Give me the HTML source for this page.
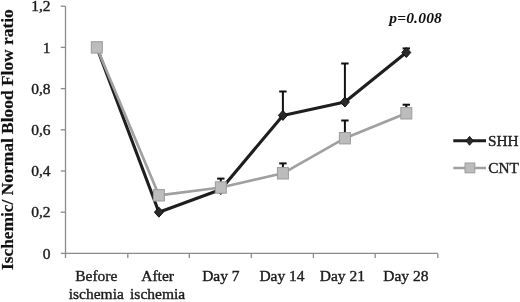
<!DOCTYPE html><html><head><meta charset="utf-8"><style>html,body{margin:0;padding:0;background:#fff;}svg{display:block;filter:grayscale(1);}text{font-family:"Liberation Serif",serif;}</style></head><body>
<svg width="520" height="302" viewBox="0 0 520 302">
<g stroke="#8a8a8a" stroke-width="1.3" fill="none">
<line x1="65.5" y1="6.2" x2="65.5" y2="253.4"/>
<line x1="60.8" y1="253.4" x2="65.5" y2="253.4"/>
<line x1="60.8" y1="212.2" x2="65.5" y2="212.2"/>
<line x1="60.8" y1="171.0" x2="65.5" y2="171.0"/>
<line x1="60.8" y1="129.8" x2="65.5" y2="129.8"/>
<line x1="60.8" y1="88.6" x2="65.5" y2="88.6"/>
<line x1="60.8" y1="47.4" x2="65.5" y2="47.4"/>
<line x1="60.8" y1="6.2" x2="65.5" y2="6.2"/>
<line x1="65" y1="253.4" x2="437.8" y2="253.4"/>
<line x1="65.5" y1="253.4" x2="65.5" y2="258"/>
<line x1="127.8" y1="253.4" x2="127.8" y2="258"/>
<line x1="189.3" y1="253.4" x2="189.3" y2="258"/>
<line x1="251.3" y1="253.4" x2="251.3" y2="258"/>
<line x1="313.4" y1="253.4" x2="313.4" y2="258"/>
<line x1="375.2" y1="253.4" x2="375.2" y2="258"/>
<line x1="437.8" y1="253.4" x2="437.8" y2="258"/>
</g>
<g font-size="15.5" fill="#1c1c1c" stroke="#1c1c1c" stroke-width="0.4" text-anchor="end">
<text x="50.5" y="258.6">0</text>
<text x="50.5" y="217.4">0,2</text>
<text x="50.5" y="176.2">0,4</text>
<text x="50.5" y="135.0">0,6</text>
<text x="50.5" y="93.8">0,8</text>
<text x="50.5" y="52.6">1</text>
<text x="50.5" y="11.4">1,2</text>
</g>
<text transform="translate(13.3,139.7) rotate(-90)" text-anchor="middle" font-size="17.4" font-weight="bold" fill="#111" stroke="#111" stroke-width="0.2">Ischemic/ Normal Blood Flow ratio</text>
<g font-size="15.5" fill="#1c1c1c" stroke="#1c1c1c" stroke-width="0.4" text-anchor="middle">
<text x="96.3" y="281.3">Before</text><text x="96.3" y="299.4">ischemia</text>
<text x="157.6" y="281.3">After</text><text x="157.6" y="299.4">ischemia</text>
<text x="220.9" y="281.3">Day 7</text>
<text x="282.0" y="281.3">Day 14</text>
<text x="342.4" y="281.3">Day 21</text>
<text x="405.8" y="281.3">Day 28</text>
</g>
<text x="389.2" y="23.4" font-size="15.5" font-weight="bold" font-style="italic" letter-spacing="0.2" fill="#111">p=0.008</text>
<g stroke="#111" stroke-width="2" fill="none">
<line x1="282.9" y1="115.4" x2="282.9" y2="91.5"/><line x1="279.2" y1="91.5" x2="286.6" y2="91.5"/>
<line x1="344.9" y1="102.0" x2="344.9" y2="63.5"/><line x1="341.2" y1="63.5" x2="348.6" y2="63.5"/>
<line x1="406.3" y1="52.5" x2="406.3" y2="48.4"/><line x1="402.6" y1="48.4" x2="410.0" y2="48.4"/>
<line x1="220.8" y1="187.5" x2="220.8" y2="178.6"/><line x1="217.1" y1="178.6" x2="224.5" y2="178.6"/>
<line x1="282.9" y1="173.3" x2="282.9" y2="163.4"/><line x1="279.2" y1="163.4" x2="286.6" y2="163.4"/>
<line x1="344.9" y1="138.2" x2="344.9" y2="120.5"/><line x1="341.2" y1="120.5" x2="348.6" y2="120.5"/>
<line x1="406.3" y1="113.3" x2="406.3" y2="104.7"/><line x1="402.6" y1="104.7" x2="410.0" y2="104.7"/>
</g>
<polyline points="96.8,47.4 158.9,212.2 220.8,189.5 282.9,115.4 344.9,102.0 406.3,52.5" fill="none" stroke="#1e1e1e" stroke-width="3.1" stroke-linejoin="round"/>
<path d="M96.8 42.4 L101.3 47.4 L96.8 52.4 L92.3 47.4Z" fill="#2a2a2a" stroke="#111" stroke-width="1"/>
<path d="M158.9 207.2 L163.4 212.2 L158.9 217.2 L154.4 212.2Z" fill="#2a2a2a" stroke="#111" stroke-width="1"/>
<path d="M220.8 184.5 L225.3 189.5 L220.8 194.5 L216.3 189.5Z" fill="#2a2a2a" stroke="#111" stroke-width="1"/>
<path d="M282.9 110.4 L287.4 115.4 L282.9 120.4 L278.4 115.4Z" fill="#2a2a2a" stroke="#111" stroke-width="1"/>
<path d="M344.9 97.0 L349.4 102.0 L344.9 107.0 L340.4 102.0Z" fill="#2a2a2a" stroke="#111" stroke-width="1"/>
<path d="M406.3 47.5 L410.8 52.5 L406.3 57.5 L401.8 52.5Z" fill="#2a2a2a" stroke="#111" stroke-width="1"/>
<polyline points="96.8,47.4 158.9,195.3 220.8,187.5 282.9,173.3 344.9,138.2 406.3,113.3" fill="none" stroke="#a0a0a0" stroke-width="2.7" stroke-linejoin="round"/>
<rect x="91.3" y="41.7" width="11" height="11.4" fill="#bcbcbc" stroke="#9c9c9c" stroke-width="1"/>
<rect x="153.4" y="189.6" width="11" height="11.4" fill="#bcbcbc" stroke="#9c9c9c" stroke-width="1"/>
<rect x="215.3" y="181.8" width="11" height="11.4" fill="#bcbcbc" stroke="#9c9c9c" stroke-width="1"/>
<rect x="277.4" y="167.6" width="11" height="11.4" fill="#bcbcbc" stroke="#9c9c9c" stroke-width="1"/>
<rect x="339.4" y="132.5" width="11" height="11.4" fill="#bcbcbc" stroke="#9c9c9c" stroke-width="1"/>
<rect x="400.8" y="107.6" width="11" height="11.4" fill="#bcbcbc" stroke="#9c9c9c" stroke-width="1"/>
<line x1="453.3" y1="140.8" x2="486" y2="140.8" stroke="#1e1e1e" stroke-width="3"/>
<path d="M469.6 136.3 L473.3 140.8 L469.6 145.3 L465.9 140.8Z" fill="#2a2a2a" stroke="#111" stroke-width="0.8"/>
<text x="488" y="146.2" font-size="15.3" fill="#1c1c1c" stroke="#1c1c1c" stroke-width="0.4">SHH</text>
<line x1="453.3" y1="168" x2="486" y2="168" stroke="#a0a0a0" stroke-width="2.7"/>
<rect x="465" y="163" width="9.8" height="9.8" fill="#bcbcbc" stroke="#9c9c9c" stroke-width="1"/>
<text x="488.3" y="173.2" font-size="15.3" fill="#1c1c1c" stroke="#1c1c1c" stroke-width="0.4">CNT</text>
</svg></body></html>
